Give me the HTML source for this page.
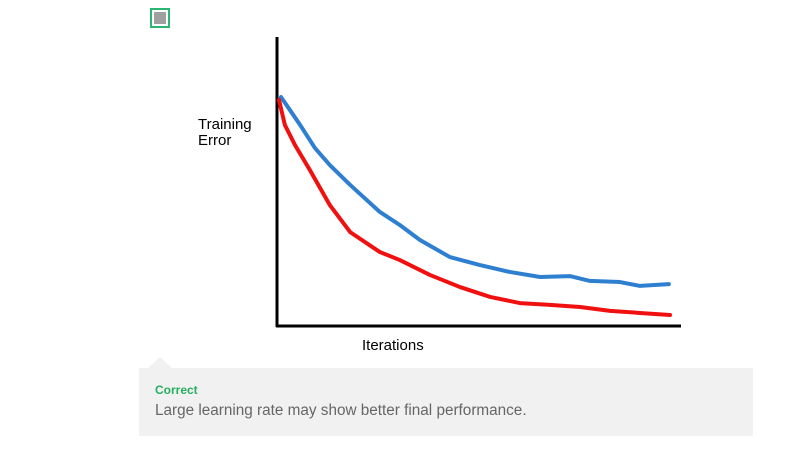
<!DOCTYPE html>
<html><head><meta charset="utf-8"><style>
body{margin:0;width:798px;height:449px;background:#fff;overflow:hidden;font-family:"Liberation Sans",sans-serif;position:relative}
.fb{position:absolute;left:139px;top:368px;width:614px;height:68px;background:#f1f1f1}
.tri{position:absolute;left:148px;top:357px;width:0;height:0;border-left:12px solid transparent;border-right:12px solid transparent;border-bottom:11px solid #f1f1f1}
.ok{position:absolute;left:16px;top:15px;font-size:12px;font-weight:bold;color:#27ae60}
.msg{position:absolute;left:16px;top:34px;font-size:15.3px;color:#666}
.cb{position:absolute;left:150px;top:8px;width:16px;height:16px;border:2px solid #2bb673;background:#fff}
.cb div{position:absolute;left:2px;top:2px;width:12px;height:12px;background:#a0a0a0}
</style></head><body>
<div class="cb"><div></div></div>
<svg width="798" height="449" style="position:absolute;left:0;top:0">
<line x1="277" y1="37" x2="277" y2="327" stroke="#000" stroke-width="3"/>
<line x1="276" y1="326" x2="681" y2="326" stroke="#000" stroke-width="3"/>
<text x="198" y="129" font-size="15" fill="#000">Training</text>
<text x="198" y="145" font-size="15" fill="#000">Error</text>
<text x="362" y="350" font-size="15" fill="#000">Iterations</text>
<g id="series"></g>
</svg>
<div class="tri"></div>
<div class="fb">
<div class="ok">Correct</div>
<div class="msg">Large learning rate may show better final performance.</div>
</div>
<script>
const blueIters=[0.5,2.8,5.4,9.2,13,18.2,25.8,30.9,36,43.7,51.4,59,66.8,74.4,79.5,87.2,92.3,99.7];
const blueVals=[1.0,0.943,0.878,0.777,0.703,0.616,0.498,0.441,0.376,0.301,0.266,0.236,0.214,0.218,0.197,0.192,0.175,0.183];
const redIters=[0,1.5,4.1,7.9,13,18.2,25.8,30.9,38.6,46.3,54,61.6,69.3,77,84.7,92.3,100];
const redVals=[0.987,0.878,0.79,0.681,0.528,0.41,0.323,0.288,0.223,0.17,0.127,0.1,0.092,0.083,0.066,0.057,0.048];
const xs=i=>279+i*3.91, ys=v=>326-v*229;
const g=document.getElementById('series');
function draw(it,vals,color,name){
  const p=document.createElementNS('http://www.w3.org/2000/svg','polyline');
  p.setAttribute('points',it.map((x,k)=>xs(x)+','+ys(vals[k])).join(' '));
  p.setAttribute('fill','none');p.setAttribute('stroke',color);p.setAttribute('stroke-width','4');
  p.setAttribute('stroke-linejoin','round');p.setAttribute('stroke-linecap','round');
  
  
  g.appendChild(p);
}
draw(blueIters,blueVals,'#2f7fd0','blue-curve');
draw(redIters,redVals,'#f01010','red-curve');
</script>
</body></html>
